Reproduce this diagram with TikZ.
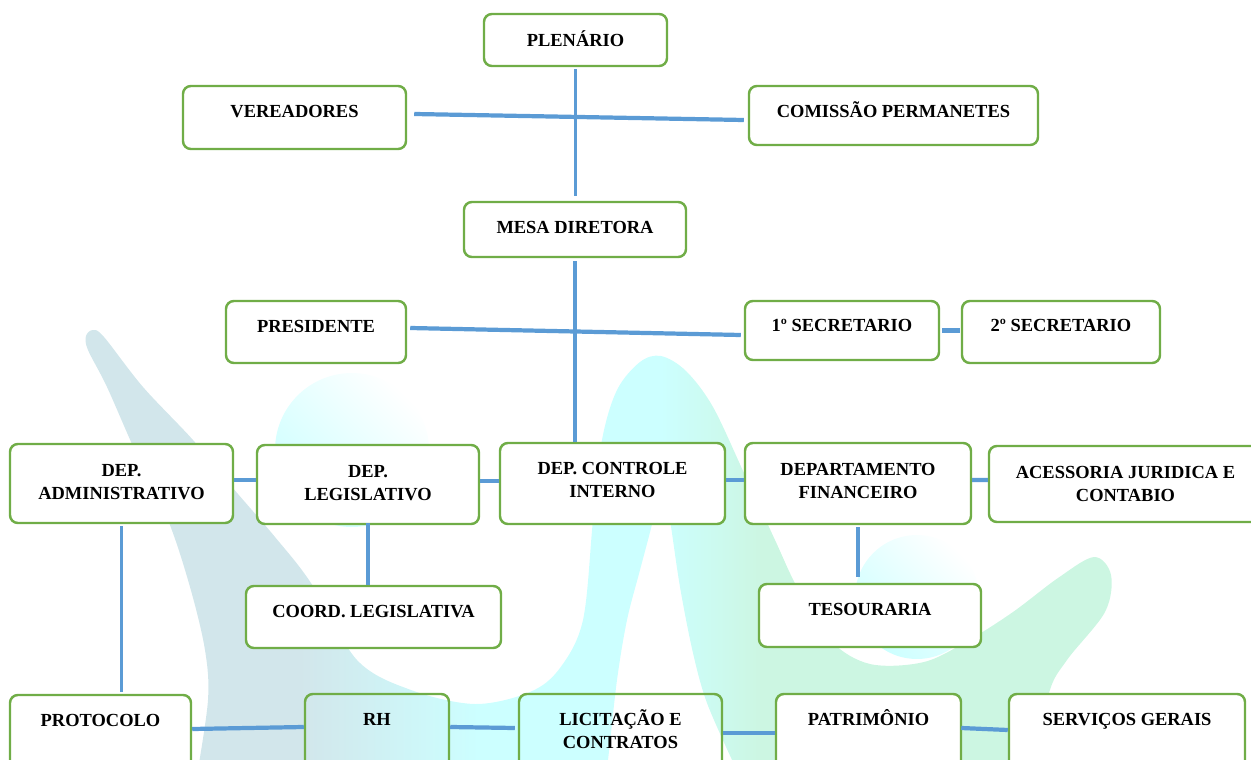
\documentclass[tikz,border=0pt]{standalone}
\usepackage{fontspec}
\setmainfont{Liberation Serif}
\usetikzlibrary{calc,fit}
\definecolor{boxgreen}{HTML}{70AD47}
\definecolor{lineblue}{HTML}{5B9BD5}
\definecolor{wmgrey}{HTML}{D2E6EB}
\definecolor{wmcyan}{HTML}{CCFFFF}
\definecolor{wmmint}{HTML}{CCF6E2}
\pgfdeclarehorizontalshading{wmshade}{100bp}{color(0bp)=(wmgrey); color(35.4bp)=(wmgrey); color(44.2bp)=(wmcyan); color(53bp)=(wmcyan); color(57.9bp)=(wmmint); color(100bp)=(wmmint)}
% #1 style, #2 name, #3-#6 corners (px), #7 baseline offset of last line, #8 text
\newcommand{\obox}[8][box]{%
  \node[#1, fit={(#3,#4) (#5,#6)}] (#2) {};
  \node[lbl] (#2-t) at ($(#2.north)+(0,#7)$) {#8};}
\begin{document}
\begin{tikzpicture}[x=0.02cm, y=-0.02cm,
  box/.style={draw=boxgreen, line width=1.4pt, rounded corners=4.5pt, fill=white, inner sep=0pt},
  openbox/.style={box, fill=none},
  lbl/.style={anchor=base, font=\fontsize{10.5}{13}\selectfont\bfseries, align=center, inner sep=0pt},
  conn/.style={draw=lineblue, line width=2.4pt},
  vconn/.style={draw=lineblue, line width=1.8pt},
]
\useasboundingbox (0,0) rectangle (1251,760);
\clip (0,0) rectangle (1251,760);
% watermark
\shade[shading=wmshade]
  plot[smooth, tension=0.55] coordinates {(197,775) (208,700) (205,650) (190,587) (168,520) (136,453) (107,387) (88,350) (86,336) (93,330) (104,337) (143,387) (193,440) (232,487) (275,537) (311,583) (357,660) (411,690) (475,704) (530,692) (560,668) (583,620) (593,520) (602,440) (617,390) (640,362) (661,356) (686,371) (713,407) (744,473) (775,540) (797,587) (830,640) (870,664) (924,662) (969,640) (1013,612) (1058,578) (1094,557) (1111,575) (1105,612) (1067,660) (1049,693) (1033,775)}
  -- (740,775)
  -- plot[smooth, tension=0.55] coordinates {(733,762) (707,703) (693,653) (680,587) (670,520) (662,475) (653,520) (640,570) (627,620) (617,680) (608,760) (605,775)}
  -- cycle;
\shade[top color=white, bottom color=wmcyan, shading angle=-45] (352,450) circle[radius=1.54cm];
\shade[top color=white, bottom color=wmcyan, shading angle=-45] (917,597) circle[radius=1.24cm];
% boxes
\obox{plen}{484}{14}{667}{66}{34}{PLENÁRIO}
\obox{vere}{183}{86}{406}{149}{33}{VEREADORES}
\obox{comi}{749}{86}{1038}{145}{33}{COMISSÃO PERMANETES}
\obox{mesa}{464}{202}{686}{257}{33}{MESA DIRETORA}
\obox{pres}{226}{301}{406}{363}{33}{PRESIDENTE}
\obox{sec1}{745}{301}{939}{360}{32}{1º SECRETARIO}
\obox{sec2}{962}{301}{1160}{363}{32}{2º SECRETARIO}
\obox{dadm}{10}{444}{233}{523}{57}{DEP.\\ADMINISTRATIVO}
\obox{dleg}{257}{445}{479}{524}{57}{DEP.\\LEGISLATIVO}
\obox{dctl}{500}{443}{725}{524}{56}{DEP. CONTROLE\\INTERNO}
\obox{dfin}{745}{443}{971}{524}{57}{DEPARTAMENTO\\FINANCEIRO}
\obox{aces}{989}{446}{1262}{522}{57}{ACESSORIA JURIDICA E\\CONTABIO}
\obox{coord}{246}{586}{501}{648}{33}{COORD. LEGISLATIVA}
\obox{teso}{759}{584}{981}{647}{33}{TESOURARIA}
\obox{prot}{10}{695}{191}{776}{33}{PROTOCOLO}
\obox[openbox]{rh}{305}{694}{449}{776}{33}{RH}
\obox[openbox]{lic}{519}{694}{722}{776}{56}{LICITAÇÃO E\\CONTRATOS}
\obox{patr}{776}{694}{961}{776}{33}{PATRIMÔNIO}
\obox{serv}{1009}{694}{1245}{776}{33}{SERVIÇOS GERAIS}
% connectors
\draw[vconn] ($(plen.south)+(0,2)$) -- ($(plen.south |- mesa.north)+(0,-5)$);
\draw[conn] ($(vere.east)+(7,-3.5)$) -- ($(comi.west)+(-4,4.5)$);
\draw[vconn] ($(mesa.south)+(0,3)$) -- (mesa.south |- dctl.north);
\draw[conn] ($(pres.east)+(3,-4)$) -- ($(sec1.west)+(-3,4.5)$);
\draw[conn] ($(sec1.east)+(2,0)$) -- ($(sec1.east -| sec2.west)+(-1,0)$);
\draw[conn] ($(dadm.east)+(0,-3.5)$) -- ($(dleg.west)+(0,-4.5)$);
\draw[conn] ($(dleg.east)+(0,-3.5)$) -- ($(dctl.west)+(0,-2.5)$);
\draw[conn] ($(dctl.east)+(0,-3.5)$) -- ($(dfin.west)+(0,-3.5)$);
\draw[conn] ($(dfin.east)+(0,-3.5)$) -- ($(aces.west)+(0,-4)$);
\draw[vconn] ($(dadm.south)+(0,2)$) -- ($(dadm.south |- prot.north)+(0,-2)$);
\draw[vconn] ($(dleg.south)+(0,-2)$) -- (dleg.south |- coord.north);
\draw[vconn] ($(dfin.south)+(0,2)$) -- ($(dfin.south |- teso.north)+(0,-6)$);
\draw[conn] ($(prot.east)+(0,-6.5)$) -- ($(rh.west)+(0,-8)$);
\draw[conn] ($(rh.east)+(0,-8)$) -- ($(lic.west)+(-3,-7)$);
\draw[conn] ($(lic.east)+(0,-2)$) -- ($(patr.west)+(0,-2)$);
\draw[conn] ($(patr.east)+(-1,-7)$) -- ($(serv.west)+(0,-5)$);
\end{tikzpicture}
\end{document}
